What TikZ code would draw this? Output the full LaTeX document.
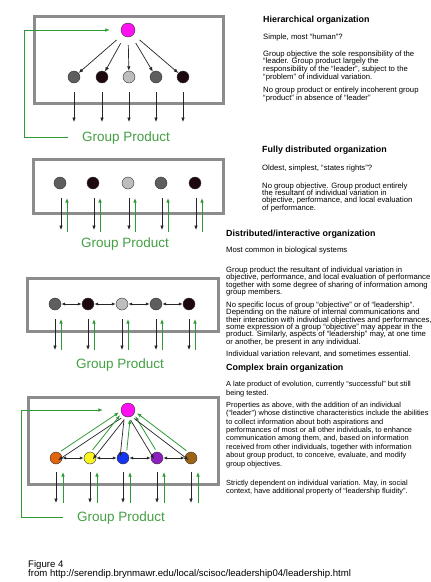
\documentclass[tikz,border=0pt]{standalone}
\usepackage{fontspec}
\setmainfont{Liberation Sans}
\usetikzlibrary{arrows.meta,calc}

\definecolor{boxgray}{HTML}{8C8C8C}
\definecolor{grn}{HTML}{2E9A36}
\definecolor{gptext}{HTML}{44A044}
\definecolor{mag}{HTML}{FF10F0}
\definecolor{dgray}{HTML}{5E5E5E}
\definecolor{nblk}{HTML}{1E0810}
\definecolor{lgray}{HTML}{BDBDBD}
\definecolor{org}{HTML}{E2640E}
\definecolor{yel}{HTML}{FAF522}
\definecolor{blu}{HTML}{1436F0}
\definecolor{pur}{HTML}{8E1EC0}
\definecolor{brn}{HTML}{9C6414}

\begin{document}
\begin{tikzpicture}[x=1pt,y=-1pt,
  frame/.style={draw=boxgray,line width=3pt},
  dot/.style={circle,draw=black!80,line width=0.4pt,minimum size=12pt,inner sep=0pt},
  bigdot/.style={dot,minimum size=14pt},
  ar/.style={-{Latex[length=4.5pt,width=3.6pt]},line width=0.7pt,black!85},
  gar/.style={-{Latex[length=4.5pt,width=3.6pt]},line width=0.8pt,grn},
  dar/.style={{Latex[length=3.6pt,width=3.2pt]}-{Latex[length=3.6pt,width=3.2pt]},line width=0.7pt,black!85,shorten <=0.3pt,shorten >=0.3pt},
  gp/.style={text=gptext,font=\fontsize{13.5}{14}\selectfont,inner sep=0pt,anchor=base},
  ttl/.style={font=\fontsize{8.9}{10}\selectfont\bfseries,anchor=base west,inner sep=0pt},
  body/.style={font=\fontsize{7.7}{#1}\selectfont,anchor=base west,inner sep=0pt,align=left},
  body/.default=7.8,
  bodyb/.style={font=\fontsize{7.4}{#1}\selectfont,anchor=base west,inner sep=0pt,align=left},
  bodyb/.default=8.5,
  foot/.style={font=\fontsize{9.6}{10}\selectfont,anchor=base west,inner sep=0pt},
]
\useasboundingbox[fill=white] (0,0) rectangle (431,582);

% ---------------- Panel 1: hierarchical
\draw[frame] (34,16) rectangle (223,103);
\node[bigdot,fill=mag] (m1) at (128,30) {};
\foreach \i/\x/\c in {1/74/dgray,2/102/nblk,3/129/lgray,4/156/dgray,5/183/nblk}{
  \node[dot,fill=\c] (a\i) at (\x,77) {};
  \draw[ar,shorten <=8pt] (m1) -- (a\i);
  \coordinate (ad\i) at (\x,122);
  \draw[ar,shorten <=9pt] (a\i) -- (ad\i);
}
\node[gp] (g1) at (126,141.5) {Group Product};
\coordinate (fs1) at (68,137);
\coordinate (fc1) at (24,30);
\draw[gar,shorten >=11pt] (fs1) -| (fc1) -- (m1);

% ---------------- Panel 2: fully distributed
\draw[frame] (33,159) rectangle (223,213);
\foreach \i/\x/\c in {1/60/dgray,2/93/nblk,3/128/lgray,4/161/dgray,5/195/nblk}{
  \node[dot,fill=\c] (b\i) at (\x,183) {};
  \coordinate (bs\i) at (\x+1,198);
  \coordinate (be\i) at (\x+1,230);
  \draw[ar] (bs\i) -- (be\i);
  \coordinate (gs\i) at (\x+7,232);
  \coordinate (ge\i) at (\x+7,198);
  \draw[gar] (gs\i) -- (ge\i);
}
\node[gp] (g2) at (125,247.5) {Group Product};

% ---------------- Panel 3: distributed / interactive
\draw[frame] (27,278) rectangle (218,331);
\foreach \i/\x/\c in {1/55/dgray,2/88/nblk,3/122/lgray,4/156/dgray,5/189/nblk}{
  \node[dot,fill=\c] (c\i) at (\x,304) {};
  \coordinate (cs\i) at (\x,319);
  \coordinate (ce\i) at (\x,350);
  \draw[ar] (cs\i) -- (ce\i);
  \coordinate (hs\i) at (\x+6,350);
  \coordinate (he\i) at (\x+6,319);
  \draw[gar] (hs\i) -- (he\i);
}
\foreach \i/\j in {1/2,2/3,3/4,4/5}{\draw[dar] (c\i) -- (c\j);}
\node[gp] (g3) at (120,368.5) {Group Product};

% ---------------- Panel 4: complex brain
\draw[frame] (28,397) rectangle (218,484);
\node[bigdot,fill=mag] (m4) at (128,410) {};
\foreach \i/\x/\c/\ab/\bb in {1/56/org/90/-90,2/90/yel/90/-90,3/123/blu/-90/90,4/157/pur/-90/90,5/191/brn/-90/90}{
  \node[dot,fill=\c] (d\i) at (\x,458) {};
  \draw[ar,shorten <=10pt,shorten >=0.6pt] ($(m4)!3pt!\ab:(d\i)$) -- ($(d\i)!3pt!\bb:(m4)$);
  \draw[gar,shorten <=8pt,shorten >=9pt] ($(d\i)!3pt!\ab:(m4)$) -- ($(m4)!3pt!\bb:(d\i)$);
  \coordinate (ds\i) at (\x,472);
  \coordinate (de\i) at (\x,503);
  \draw[ar] (ds\i) -- (de\i);
  \coordinate (ks\i) at (\x+7,503);
  \coordinate (ke\i) at (\x+7,472);
  \draw[gar] (ks\i) -- (ke\i);
}
\foreach \i/\j in {1/2,2/3,3/4,4/5}{\draw[dar] (d\i) -- (d\j);}
\node[gp] (g4) at (121,521.5) {Group Product};
\coordinate (fs4) at (63,517);
\coordinate (fc4) at (21,410);
\draw[gar,shorten >=18pt] (fs4) -| (fc4) -- (m4);

% ---------------- Texts (multi-line nodes: base = last line)
\node[ttl] (t1) at (263,22) {Hierarchical organization};
\node[body] (t1a) at (263,39.5) {Simple, most “human”?};
\node[body] (t1b) at (263,79.4) {Group objective the sole responsibility of the\\“leader.  Group product largely the\\responsibility of the “leader”, subject to the\\“problem” of individual variation.};
\node[body] (t1c) at (263,100.3) {No group product or entirely incoherent group\\“product” in absence of “leader”};

\node[ttl] (t2) at (262,152) {Fully distributed organization};
\node[body] (t2a) at (262,170.5) {Oldest, simplest, “states rights”?};
\node[body=7.2] (t2b) at (262,210.1) {No group objective. Group product entirely\\the resultant of individual variation in\\objective, performance, and local evaluation\\of performance.};

\node[ttl] (t3) at (226,236) {Distributed/interactive organization};
\node[body] (t3a) at (226,252.5) {Most common in biological systems};
\node[body=7.4] (t3b) at (226,294.7) {Group product the resultant of individual variation in\\objective, performance, and local evaluation of performance\\together with some degree of sharing of information among\\group members.};
\node[body=7.3] (t3c) at (226,344) {No specific locus of group “objective” or of “leadership”.\\Depending on the nature of internal communications and\\their interaction with individual objectives and performances,\\some expression of a group “objective” may appear in the\\product.  Similarly, aspects of “leadership” may, at one time\\or another, be present in any individual.};
\node[body] (t3d) at (226,356.5) {Individual variation relevant, and sometimes essential.};

\node[ttl] (t4) at (226,370) {Complex brain organization};
\node[bodyb=8.4] (t4a) at (226,395) {A late product of evolution, currently “successful” but still\\being tested.};
\node[bodyb=8.4] (t4b) at (226,466) {Properties as above,  with the addition of an individual\\(“leader”) whose distinctive characteristics include the abilities\\to collect information about both aspirations and\\performances of most or all other individuals, to enhance\\communication among them, and, based on information\\received from other individuals, together with information\\about group product, to conceive, evaluate, and modify\\group objectives.};
\node[bodyb=8.2] (t4c) at (226,493.5) {Strictly dependent on individual variation.  May, in social\\context, have additional property of “leadership fluidity”.};

\node[foot] (f1) at (28,567) {Figure 4};
\node[foot] (f2) at (28,576) {from http://serendip.brynmawr.edu/local/scisoc/leadership04/leadership.html};
\end{tikzpicture}
\end{document}
